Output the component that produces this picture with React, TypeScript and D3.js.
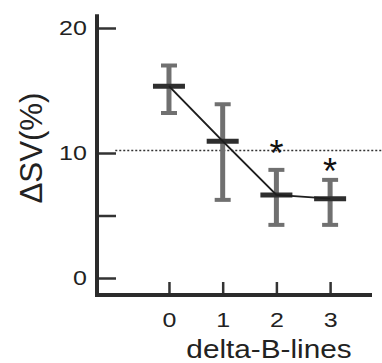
import { useEffect, useRef } from 'react';
import * as d3 from 'd3';

const groups = [0, 1, 2, 3];
const means = [15.35, 10.95, 6.65, 6.35];
const upper = [17.0, 13.9, 8.65, 7.85];
const lower = [13.2, 6.25, 4.25, 4.25];
const starGroups = [2, 3];
const starY = [10.65, 9.2];
const refLine = 10.2;
const yTicks = [0, 5, 10, 20];
const yLabels = ['0', '', '10', '20'];

const W = 382;
const H = 363;
const SX = 1.19; // the picture is stretched sideways

const App = () => {
  const svgRef = useRef(null);

  useEffect(() => {
    const svg = d3.select(svgRef.current);
    svg.selectAll('*').remove();

    const x = d3.scaleLinear().domain([-1.34, 3.78]).range([97, 372]);
    const y = d3.scaleLinear().domain([0, 20]).range([278, 28]);
    const font = 'Liberation Sans, Arial, sans-serif';

    // dotted reference line
    svg.append('line')
      .attr('x1', x(-1)).attr('x2', W)
      .attr('y1', y(refLine)).attr('y2', y(refLine))
      .attr('stroke', '#333')
      .attr('stroke-width', 1.5)
      .attr('stroke-dasharray', '2,2');

    // y axis
    const yAxis = d3.axisLeft(y)
      .tickValues(yTicks)
      .tickSizeInner(-19)
      .tickSizeOuter(0)
      .tickPadding(8.5)
      .tickFormat((d, i) => yLabels[i]);
    const gy = svg.append('g').attr('transform', 'translate(97,0)').call(yAxis);
    gy.select('.domain').remove();
    gy.selectAll('line').attr('stroke', '#333').attr('stroke-width', 2.5);
    gy.selectAll('text')
      .attr('fill', '#222')
      .style('font-family', font)
      .style('font-size', '21px')
      .attr('transform', `scale(${SX},1)`);

    // x axis
    const xAxis = d3.axisBottom(x)
      .tickValues(groups)
      .tickSizeInner(-13)
      .tickSizeOuter(0)
      .tickPadding(17)
      .tickFormat(d3.format('d'));
    const gx = svg.append('g').attr('transform', `translate(0,${y(-1.36)})`).call(xAxis);
    gx.select('.domain').remove();
    gx.selectAll('line').attr('stroke', '#333').attr('stroke-width', 2.5);
    gx.selectAll('text')
      .attr('fill', '#222')
      .style('font-family', font)
      .style('font-size', '21px')
      .attr('transform', `scale(${SX},1)`);

    // axis lines
    svg.append('line')
      .attr('x1', 97).attr('x2', 97)
      .attr('y1', y(21.1)).attr('y2', y(-1.52))
      .attr('stroke', '#2b2b2b').attr('stroke-width', 4);
    svg.append('line')
      .attr('x1', 95).attr('x2', x(3.78))
      .attr('y1', y(-1.36)).attr('y2', y(-1.36))
      .attr('stroke', '#2b2b2b').attr('stroke-width', 4);

    // error bars
    const eb = svg.append('g').attr('stroke', '#707070');
    eb.selectAll('line.v')
      .data(groups)
      .enter()
      .append('line')
      .attr('x1', d => x(d)).attr('x2', d => x(d))
      .attr('y1', (d, i) => y(upper[i]))
      .attr('y2', (d, i) => y(lower[i]))
      .attr('stroke-width', 5);
    eb.selectAll('line.top')
      .data(groups)
      .enter()
      .append('line')
      .attr('x1', d => x(d) - 8).attr('x2', d => x(d) + 8)
      .attr('y1', (d, i) => y(upper[i]))
      .attr('y2', (d, i) => y(upper[i]))
      .attr('stroke-width', 4);
    eb.selectAll('line.bot')
      .data(groups)
      .enter()
      .append('line')
      .attr('x1', d => x(d) - 8).attr('x2', d => x(d) + 8)
      .attr('y1', (d, i) => y(lower[i]))
      .attr('y2', (d, i) => y(lower[i]))
      .attr('stroke-width', 4);

    // mean bars
    svg.selectAll('line.mean')
      .data(groups)
      .enter()
      .append('line')
      .attr('x1', d => x(d) - 16).attr('x2', d => x(d) + 16)
      .attr('y1', (d, i) => y(means[i]))
      .attr('y2', (d, i) => y(means[i]))
      .attr('stroke', '#2e2e2e')
      .attr('stroke-width', 5);

    // connecting line
    const line = d3.line()
      .x(d => x(d[0]))
      .y(d => y(d[1]));
    svg.append('path')
      .datum(groups.map((g, i) => [g, means[i]]))
      .attr('d', line)
      .attr('fill', 'none')
      .attr('stroke', '#1e1e1e')
      .attr('stroke-width', 2);

    // significance stars
    const starSize = 36;
    svg.selectAll('text.star')
      .data(starGroups)
      .enter()
      .append('text')
      .attr('x', d => x(d))
      .attr('y', (d, i) => y(starY[i]) + starSize * 0.58)
      .attr('text-anchor', 'middle')
      .style('font-family', font)
      .style('font-size', starSize + 'px')
      .attr('fill', '#111')
      .text('*');

    // axis titles
    svg.append('text')
      .attr('transform', `translate(269,358) scale(${SX},1)`)
      .attr('text-anchor', 'middle')
      .style('font-family', font)
      .style('font-size', '25px')
      .attr('fill', '#222')
      .text('delta-B-lines');

    svg.append('text')
      .attr('transform', `translate(42,148) scale(${SX},1) rotate(-90)`)
      .attr('text-anchor', 'middle')
      .attr('textLength', 111)
      .attr('lengthAdjust', 'spacingAndGlyphs')
      .style('font-family', font)
      .style('font-size', '26px')
      .attr('fill', '#222')
      .text('ΔSV(%)');
  }, []);

  return (
    <svg
      ref={svgRef}
      width={W}
      height={H}
      style={{ position: 'absolute', left: 0, top: 0, background: '#fff' }}
    />
  );
};

export default App;
